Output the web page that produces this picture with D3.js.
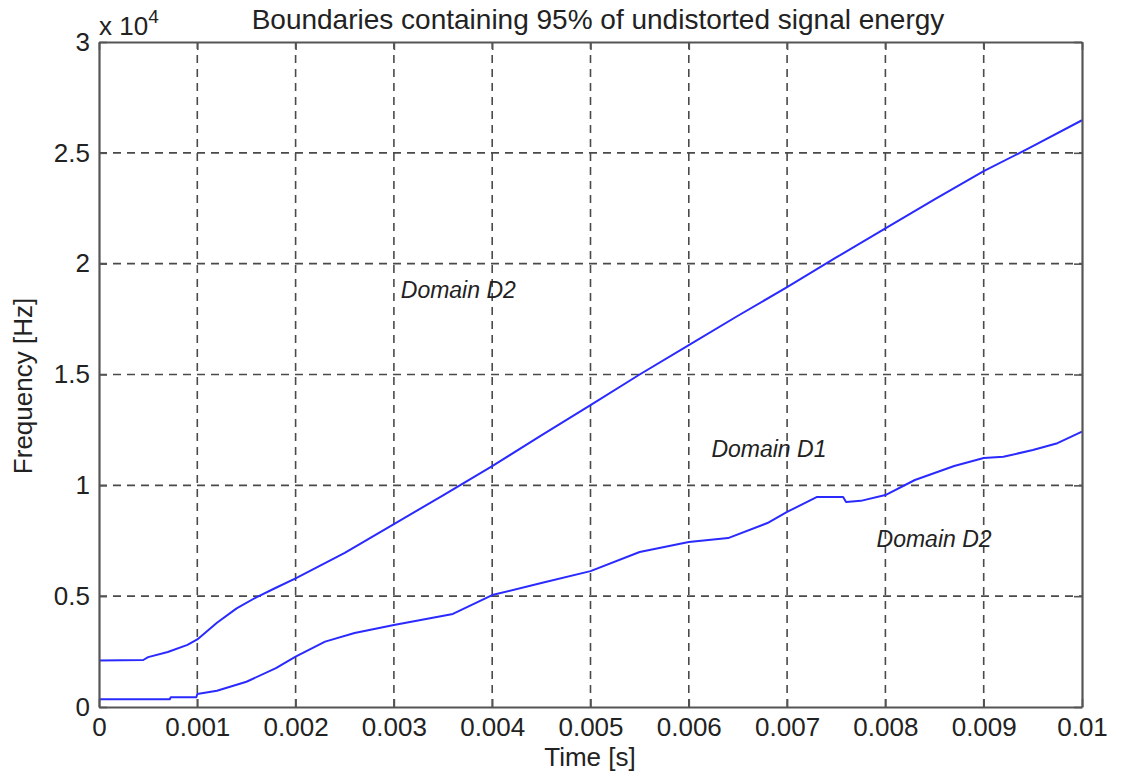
<!DOCTYPE html>
<html>
<head>
<meta charset="utf-8">
<script src="https://cdn.jsdelivr.net/npm/d3@7"></script>
<style>
  html, body { margin: 0; padding: 0; background: #fff; }
  svg { display: block; font-family: "Liberation Sans", Arial, sans-serif; }
</style>
</head>
<body>
<svg id="chart" width="1121" height="778"></svg>
<script>
// Time axis (s) and the two 95%-energy boundary curves (Hz)
const upperTime = [0, 0.00045, 0.0005, 0.0007, 0.0009, 0.001, 0.0012, 0.0014, 0.0016, 0.0018, 0.002,
  0.0025, 0.003, 0.0035, 0.004, 0.0045, 0.005, 0.0055, 0.006, 0.0065, 0.007, 0.0075, 0.008,
  0.0085, 0.009, 0.0095, 0.01];
const upperFreq = [2100, 2120, 2250, 2480, 2800, 3050, 3800, 4450, 4950, 5380, 5800,
  6950, 8250, 9550, 10870, 12250, 13620, 15000, 16330, 17650, 18940, 20280, 21590,
  22900, 24170, 25300, 26470];

const lowerTime = [0, 0.00072, 0.00073, 0.00099, 0.001, 0.0012, 0.0015, 0.0018, 0.002, 0.0023,
  0.0026, 0.003, 0.0036, 0.004, 0.0045, 0.005, 0.0055, 0.006, 0.0064, 0.0068, 0.007, 0.0073,
  0.00757, 0.0076, 0.00775, 0.008, 0.0083, 0.0087, 0.009, 0.0092, 0.0095, 0.00975, 0.01];
const lowerFreq = [350, 350, 440, 440, 590, 735, 1140, 1750, 2270, 2950,
  3340, 3700, 4200, 5050, 5590, 6130, 6990, 7440, 7620, 8300, 8800, 9470,
  9470, 9250, 9300, 9560, 10240, 10870, 11230, 11290, 11590, 11900, 12420];

const xTicks = [0, 0.001, 0.002, 0.003, 0.004, 0.005, 0.006, 0.007, 0.008, 0.009, 0.01];
const xTickLabels = ["0", "0.001", "0.002", "0.003", "0.004", "0.005", "0.006", "0.007", "0.008", "0.009", "0.01"];
const yTicks = [0, 5000, 10000, 15000, 20000, 25000, 30000];
const yTickLabels = ["0", "0.5", "1", "1.5", "2", "2.5", "3"];

const annotations = [
  { label: "Domain D2", t: 0.00307, f: 18450 },
  { label: "Domain D1", t: 0.00623, f: 11280 },
  { label: "Domain D2", t: 0.00791, f: 7220 }
];

const svg = d3.select("#chart");
const plotLeft = 99, plotRight = 1082, plotTop = 42, plotBottom = 707;

const x = d3.scaleLinear().domain([0, 0.01]).range([plotLeft, plotRight]);
const y = d3.scaleLinear().domain([0, 30000]).range([plotBottom, plotTop]);

const gridColor = "#4a4a4a";
const axisColor = "#555";
const textColor = "#222";
const fontSize = "26px";

// dashed grid
const grid = svg.append("g").attr("stroke", gridColor).attr("stroke-width", 1.6)
  .attr("stroke-dasharray", "8,6");
grid.selectAll("line.v").data(xTicks.slice(1, -1)).join("line").attr("class", "v")
  .attr("x1", d => x(d)).attr("x2", d => x(d)).attr("y1", plotBottom).attr("y2", plotTop);
grid.selectAll("line.h").data(yTicks.slice(1, -1)).join("line").attr("class", "h")
  .attr("x1", plotLeft).attr("x2", plotRight).attr("y1", d => y(d)).attr("y2", d => y(d));

// boundary curves
const line = d3.line().x(d => x(d[0])).y(d => y(d[1]));
const curves = [d3.zip(upperTime, upperFreq), d3.zip(lowerTime, lowerFreq)];
svg.append("g").selectAll("path").data(curves).join("path")
  .attr("d", line).attr("fill", "none").attr("stroke", "#2a2aff")
  .attr("stroke-width", 2).attr("stroke-linejoin", "round");

// axes with inward ticks on all four sides
const fmtX = d => xTickLabels[xTicks.indexOf(d)];
const fmtY = d => yTickLabels[yTicks.indexOf(d)];
const styleAxis = g => {
  g.select(".domain").attr("stroke", axisColor).attr("stroke-width", 2.2);
  g.selectAll(".tick line").attr("stroke", axisColor).attr("stroke-width", 1.6);
  g.selectAll(".tick text").attr("fill", textColor).style("font-size", fontSize)
    .style("font-family", "'Liberation Sans', Arial, sans-serif");
};
svg.append("g").attr("transform", `translate(0,${plotBottom})`)
  .call(d3.axisBottom(x).tickValues(xTicks).tickFormat(fmtX).tickSizeInner(-8).tickSizeOuter(0).tickPadding(11))
  .call(styleAxis);
svg.append("g").attr("transform", `translate(0,${plotTop})`)
  .call(d3.axisTop(x).tickValues(xTicks).tickFormat("").tickSizeInner(-8).tickSizeOuter(0))
  .call(styleAxis);
svg.append("g").attr("transform", `translate(${plotLeft},0)`)
  .call(d3.axisLeft(y).tickValues(yTicks).tickFormat(fmtY).tickSizeInner(-8).tickSizeOuter(0).tickPadding(9))
  .call(styleAxis);
svg.append("g").attr("transform", `translate(${plotRight},0)`)
  .call(d3.axisRight(y).tickValues(yTicks).tickFormat("").tickSizeInner(-8).tickSizeOuter(0))
  .call(styleAxis);

// exponent marker above the y axis
const expo = svg.append("text").attr("x", 99).attr("y", 35).attr("fill", textColor)
  .style("font-size", fontSize);
expo.append("tspan").text("x 10");
expo.append("tspan").attr("dy", -12).style("font-size", "19px").text("4");

// title and axis labels
svg.append("text").attr("x", 598).attr("y", 29).attr("text-anchor", "middle")
  .attr("fill", textColor).style("font-size", "28px")
  .text("Boundaries containing 95% of undistorted signal energy");
svg.append("text").attr("x", 590).attr("y", 766).attr("text-anchor", "middle")
  .attr("fill", textColor).style("font-size", fontSize).text("Time [s]");
svg.append("text").attr("transform", "translate(32,386) rotate(-90)").attr("text-anchor", "middle")
  .attr("fill", textColor).style("font-size", fontSize).text("Frequency [Hz]");

// region annotations
svg.append("g").selectAll("text").data(annotations).join("text")
  .attr("x", d => x(d.t)).attr("y", d => y(d.f))
  .attr("fill", textColor).style("font-size", "23px").style("font-style", "italic")
  .text(d => d.label);
</script>
</body>
</html>
